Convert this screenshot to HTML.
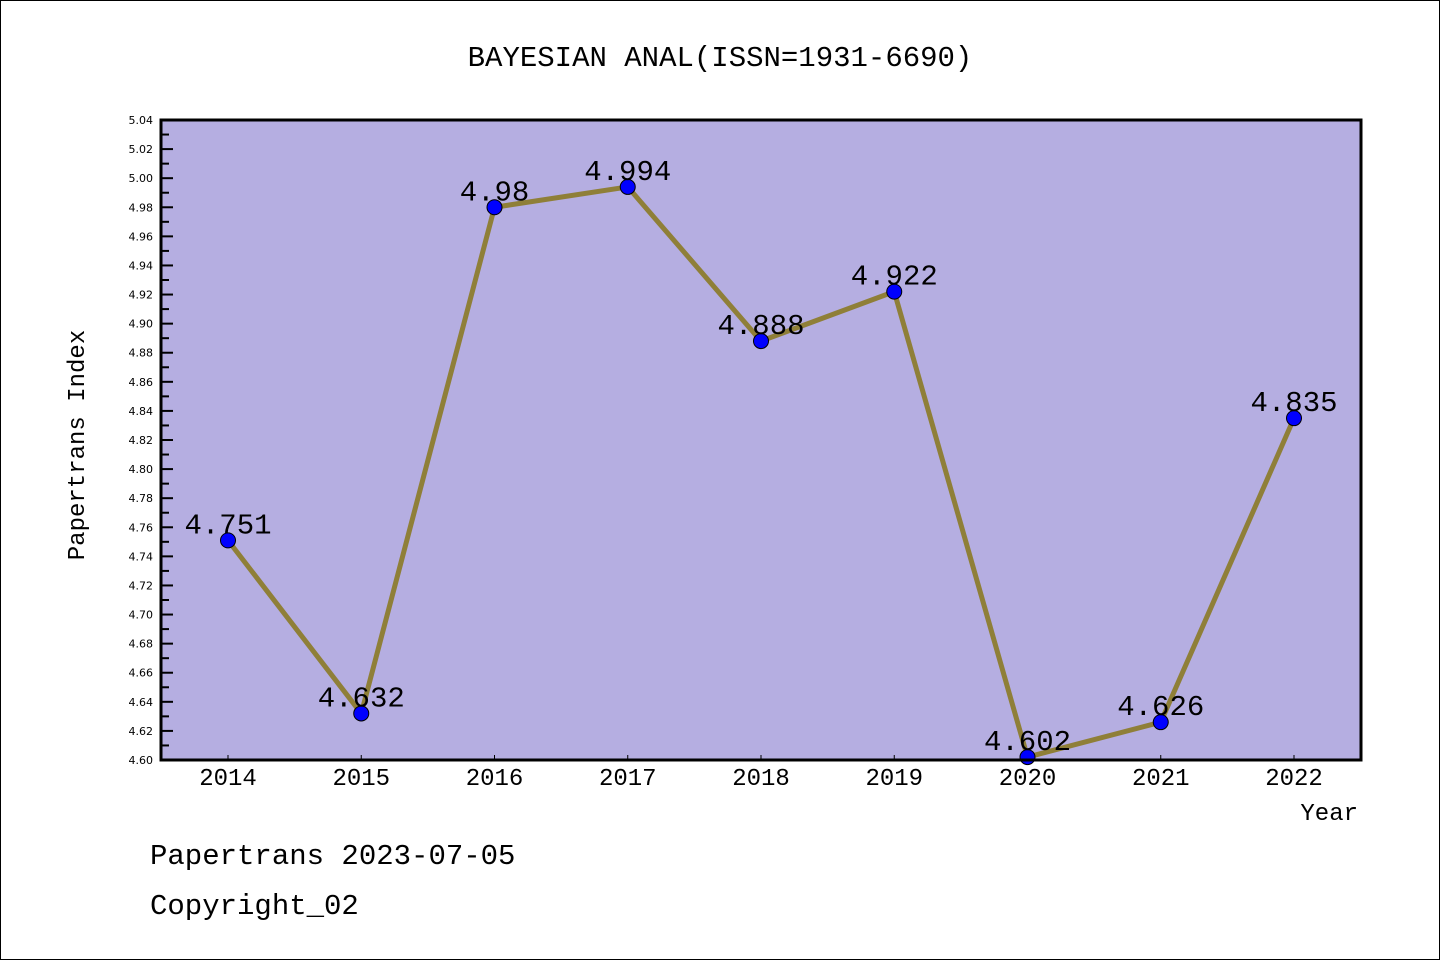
<!DOCTYPE html>
<html><head><meta charset="utf-8"><style>
body{margin:0;background:#fff;}
svg{display:block;font-family:"Liberation Mono","DejaVu Sans Mono",monospace;}
</style></head><body>
<svg id="chart" width="1440" height="960" xmlns="http://www.w3.org/2000/svg">
<rect x="0.5" y="0.5" width="1439" height="959" fill="#fff" stroke="#000"/>
<text x="720" y="66" text-anchor="middle" font-size="29">BAYESIAN ANAL(ISSN=1931-6690)</text>
<rect x="161" y="120" width="1200" height="640" fill="#b5aee1"/>
<g id="yticks"></g><g id="xticks"></g>
<g id="series"></g>
<rect x="161" y="120" width="1200" height="640" fill="none" stroke="#000" stroke-width="3"/>
<text transform="translate(84,445) rotate(-90)" text-anchor="middle" font-size="24">Papertrans Index</text>
<text x="1358" y="820" text-anchor="end" font-size="24">Year</text>
<text x="150" y="864" font-size="29">Papertrans 2023-07-05</text>
<text x="150" y="914" font-size="29">Copyright_02</text>
</svg>
<script>
const years=["2014","2015","2016","2017","2018","2019","2020","2021","2022"];
const values=[4.751,4.632,4.98,4.994,4.888,4.922,4.602,4.626,4.835];
const yTickLabels=["4.60","4.62","4.64","4.66","4.68","4.70","4.72","4.74","4.76","4.78","4.80","4.82","4.84","4.86","4.88","4.90","4.92","4.94","4.96","4.98","5.00","5.02","5.04"];
const NS="http://www.w3.org/2000/svg";
const yMin=4.60,yMax=5.04,plotTop=120,plotBot=760;
function yS(v){return plotBot-(v-yMin)/(yMax-yMin)*(plotBot-plotTop);}
function xS(i){return 228+i*(1294-228)/(years.length-1);}
function mk(tag,attrs,parent){const e=document.createElementNS(NS,tag);for(const k in attrs)e.setAttribute(k,attrs[k]);parent.appendChild(e);return e;}
const yt=document.getElementById('yticks');
yTickLabels.forEach((t,i)=>{
  const v=parseFloat(t),y=yS(v);
  const l=mk('line',{x1:161,x2:173,y1:y,y2:y,stroke:'#000','stroke-width':2},yt);
  
  
  const tx=mk('text',{x:153,y:y+4,'text-anchor':'end','font-size':11,'font-family':'DejaVu Sans, sans-serif'},yt);
  tx.textContent=t;
  
  
  if(i<yTickLabels.length-1){
    const ym=yS(v+0.01);
    const m=mk('line',{x1:161,x2:169,y1:ym,y2:ym,stroke:'#000','stroke-width':2},yt);
    
    
  }
});
const xt=document.getElementById('xticks');
years.forEach((yr,i)=>{
  const x=xS(i);
  const l=mk('line',{x1:x,x2:x,y1:760,y2:755,stroke:'#000','stroke-width':1},xt);
  
  
  const tx=mk('text',{x:x,y:785,'text-anchor':'middle','font-size':24},xt);
  tx.textContent=yr;
  
  
});
const sg=document.getElementById('series');
const pts=values.map((v,i)=>xS(i)+','+yS(v)).join(' ');
const pl=mk('polyline',{points:pts,fill:'none',stroke:'#8f7f38','stroke-width':5,'stroke-linejoin':'round'},sg);


values.forEach((v,i)=>{
  const c=mk('circle',{cx:xS(i),cy:yS(v),r:7.5,fill:'#0000ff',stroke:'#000','stroke-width':1},sg);
  
  
});
values.forEach((v,i)=>{
  const t=mk('text',{x:xS(i),y:yS(v)-7,'text-anchor':'middle','font-size':29},sg);
  t.textContent=String(v);
  
  
});
</script>
</body></html>
